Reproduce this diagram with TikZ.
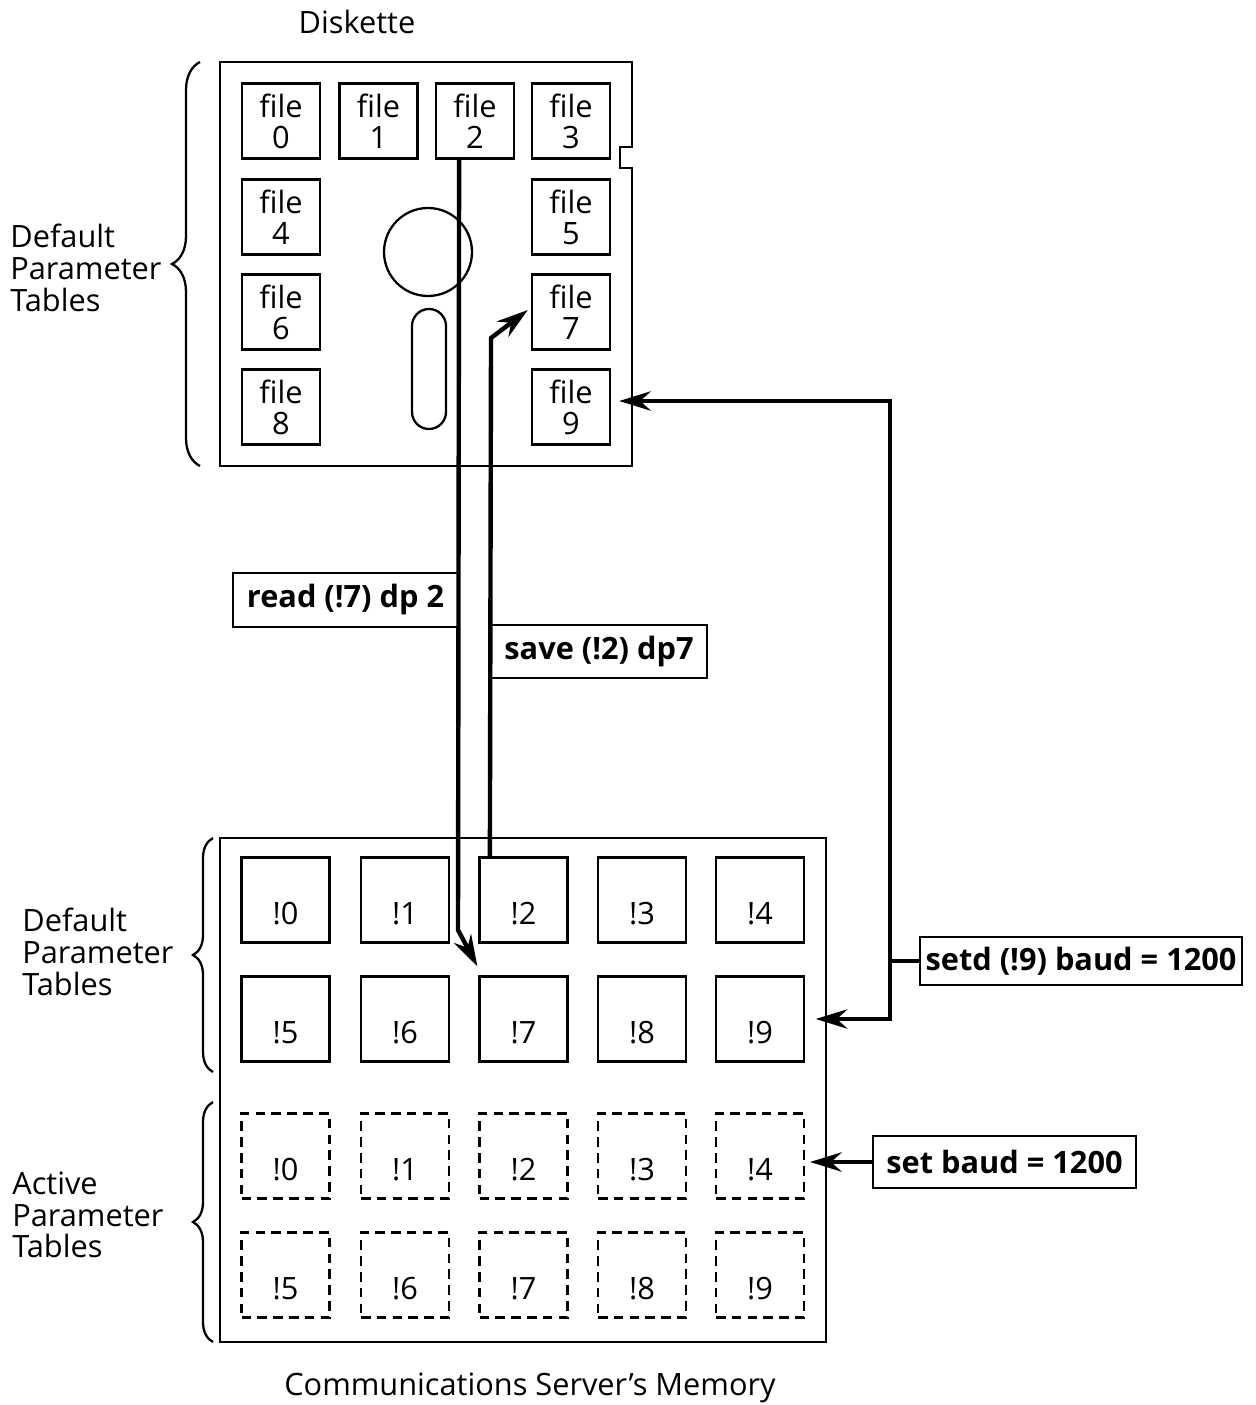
\documentclass[tikz,border=0pt]{standalone}
\usepackage{fontspec}
\setmainfont{Open Sans}
\usetikzlibrary{arrows.meta,decorations.pathreplacing}

\begin{document}
\begin{tikzpicture}[x=0.02cm,y=-0.02cm,
  every node/.style={font=\fontsize{17.5}{18}\selectfont},
  filebox/.style={draw,line width=1.3pt,minimum width=1.56cm,minimum height=1.5cm,
    inner sep=0pt,align=center,font=\fontsize{17.5}{17.6}\selectfont},
  tablebox/.style={draw,line width=1.3pt,minimum width=1.76cm,minimum height=1.7cm,
    inner sep=0pt,text height=0.98cm,text depth=0pt},
  activebox/.style={tablebox,dash pattern=on 5.5pt off 3.5pt},
  cmdbox/.style={draw,line width=1.3pt,inner sep=0pt,
    font=\bfseries\fontsize{17.5}{18}\selectfont},
  sidelabel/.style={anchor=west,align=left,inner sep=0pt},
  sidebrace/.style={decorate,decoration={brace,amplitude=#1},line width=1.3pt},
  flow/.style={line width=2.5pt,-{Stealth[length=18pt,width=11pt,inset=6pt]}}]
\useasboundingbox (0,0) rectangle (1256,1405);

% the diskette
\node (disk) at (357,22) {Diskette};
\draw[line width=1.3pt] (220,62) -- (632,62) -- (632,147) -- (620,147) -- (620,168)
  -- (632,168) -- (632,466) -- (220,466) -- cycle;
\draw[line width=1.3pt] (428,252) circle[radius=0.88cm];
\draw[line width=1.3pt,rounded corners=0.34cm] (412,309) rectangle (446,429);
\node[filebox] (f0) at (281,121) {file\\0};
\node[filebox] (f1) at (378.5,121) {file\\1};
\node[filebox] (f2) at (475,121) {file\\2};
\node[filebox] (f3) at (571,121) {file\\3};
\node[filebox] (f4) at (281,217) {file\\4};
\node[filebox] (f5) at (571,217) {file\\5};
\node[filebox] (f6) at (281,312) {file\\6};
\node[filebox] (f7) at (571,312) {file\\7};
\node[filebox] (f8) at (281,407) {file\\8};
\node[filebox] (f9) at (571,407) {file\\9};
\draw[sidebrace=0.56cm] (200,466) -- (200,62);
\node[sidelabel] (disklbl) at (10,268) {Default\\Parameter\\Tables};

% the server's memory
\draw[line width=1.3pt] (220,838) rectangle (826,1342);
\node (mem) at (530,1388) {Communications Server’s Memory};
\node[tablebox] (m0) at (285.5,900) {!0};
\node[tablebox] (m1) at (405,900) {!1};
\node[tablebox] (m2) at (523.5,900) {!2};
\node[tablebox] (m3) at (642,900) {!3};
\node[tablebox] (m4) at (760,900) {!4};
\node[tablebox] (m5) at (285.5,1019) {!5};
\node[tablebox] (m6) at (405,1019) {!6};
\node[tablebox] (m7) at (523.5,1019) {!7};
\node[tablebox] (m8) at (642,1019) {!8};
\node[tablebox] (m9) at (760,1019) {!9};
\node[activebox] (a0) at (285.5,1156) {!0};
\node[activebox] (a1) at (405,1156) {!1};
\node[activebox] (a2) at (523.5,1156) {!2};
\node[activebox] (a3) at (642,1156) {!3};
\node[activebox] (a4) at (760,1156) {!4};
\node[activebox] (a5) at (285.5,1275) {!5};
\node[activebox] (a6) at (405,1275) {!6};
\node[activebox] (a7) at (523.5,1275) {!7};
\node[activebox] (a8) at (642,1275) {!8};
\node[activebox] (a9) at (760,1275) {!9};
\draw[sidebrace=0.4cm] (213,1072) -- (213,838);
\draw[sidebrace=0.4cm] (213,1342) -- (213,1102);
\node[sidelabel] (deflbl) at (22,952) {Default\\Parameter\\Tables};
\node[sidelabel] (actlbl) at (12,1215) {Active\\Parameter\\Tables};

% commands
\node[cmdbox,minimum width=4.5cm,minimum height=1.08cm] (rd) at (345.5,600) {read (!7) dp 2};
\node[cmdbox,minimum width=4.32cm,minimum height=1.06cm] (sv) at (599,651.5) {save (!2) dp7};
\node[cmdbox,minimum width=6.44cm,minimum height=0.96cm] (sd) at (1081,961) {setd (!9) baud = 1200};
\node[cmdbox,minimum width=5.26cm,minimum height=1.04cm] (st) at (1004.5,1162) {set baud = 1200};

\coordinate (rdbend) at (458,930);
\coordinate (svbend) at (491,338);
\coordinate (sdjoin) at (890,961);
\coordinate (stend) at (810,1162);
\draw[flow] (rd.east |- f2.south) -- (rdbend) -- ([shift={(-1,-9)}]m7.north west);
\draw[flow] (sv.west |- m2.north) -- (svbend) -- ([shift={(-3,-2)}]f7.west);
\draw[line width=2.5pt] (sdjoin) -- (sd.west);
\draw[flow] (sdjoin) |- ([shift={(8,-6)}]f9.east);
\draw[flow] (sdjoin) |- ([xshift=6]m9.east);
\draw[flow] (st.west) -- (stend);
\end{tikzpicture}
\end{document}
